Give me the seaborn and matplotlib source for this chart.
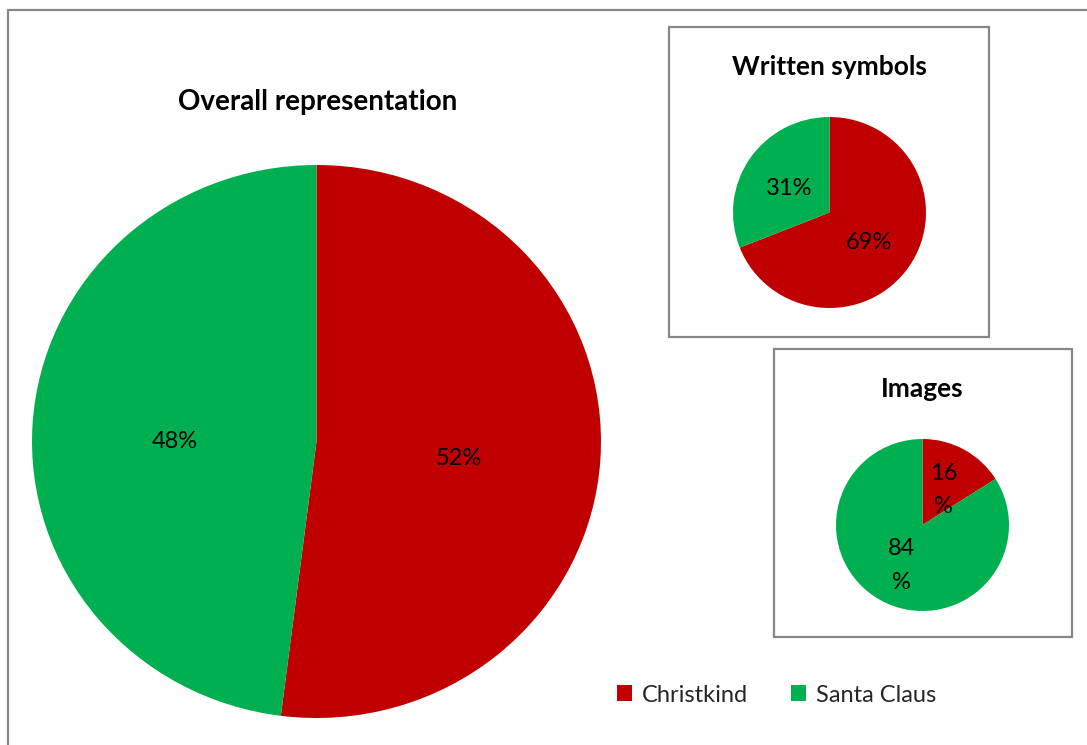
import matplotlib
matplotlib.use("Agg")
import matplotlib.pyplot as plt
from matplotlib.patches import Rectangle, Patch
from matplotlib.lines import Line2D
import seaborn as sns

# Shares (%) of each figure, per medium
categories = ["Christkind", "Santa Claus"]
overall = [52, 48]
written = [69, 31]
images = [16, 84]
titles = ["Overall representation", "Written symbols", "Images"]

sns.set_theme(style="white")
plt.rcParams["font.family"] = ["Lato", "DejaVu Sans"]
palette = sns.color_palette(["#C00000", "#00B050"])

W, H = 1087, 745
fig = plt.figure(figsize=(W / 100, H / 100), dpi=100)
fig.patch.set_facecolor("white")


def fbox(x0, y0, x1, y1):
    """Pixel box (top-left origin) -> figure-fraction rect."""
    return [x0 / W, 1 - y1 / H, (x1 - x0) / W, (y1 - y0) / H]


def pie(rect, values, fmt):
    ax = fig.add_axes(rect)
    _, _, autotexts = ax.pie(values, colors=palette, startangle=90,
                             counterclock=False, autopct=fmt, pctdistance=0.5,
                             wedgeprops=dict(linewidth=0),
                             textprops=dict(fontsize=17, color="black",
                                            linespacing=1.75))
    for t in autotexts:
        # nudge labels a touch below the wedge centroid
        x, y = t.get_position()
        t.set_position((x, y - 0.03))
    ax.set_aspect("auto")
    ax.set_xlim(-1, 1)
    ax.set_ylim(-1, 1)
    ax.axis("off")
    return ax


border = "#878787"
# outer chart frame (top and left edges visible)
fig.add_artist(Line2D([8 / W, 8 / W, 1.01], [-0.01, 1 - 10 / H, 1 - 10 / H],
                      transform=fig.transFigure, color=border, lw=1.6))
# boxes round the two small pies
for x0, y0, x1, y1 in [(669, 27, 989, 337), (774, 349, 1072, 637)]:
    fig.add_artist(Rectangle((x0 / W, 1 - y1 / H), (x1 - x0) / W, (y1 - y0) / H,
                             transform=fig.transFigure, fill=False,
                             edgecolor=border, lw=1.6))

pie(fbox(32, 165, 601, 718), overall, lambda p: f"{p:.0f}%")
pie(fbox(733, 117, 926, 308), written, lambda p: f"{p:.0f}%")
pie(fbox(836, 439, 1009, 611), images, lambda p: f"{p:.0f}\n%")

for (x, y), t, fs in zip([(318, 102), (829, 67), (922, 389)], titles,
                         [20, 19, 19]):
    fig.text(x / W, 1 - y / H, t, ha="center", va="center",
             fontsize=fs, fontweight="bold", color="black")

handles = [Patch(facecolor=c, edgecolor="none") for c in palette]
fig.legend(handles, categories, loc="center left",
           bbox_to_anchor=(617 / W, 1 - 695 / H), ncol=2, frameon=False,
           fontsize=17, handlelength=0.64, handleheight=0.64,
           handletextpad=0.42, columnspacing=1.8, borderpad=0,
           borderaxespad=0)

fig.savefig("out.png", dpi=100, facecolor="white")
